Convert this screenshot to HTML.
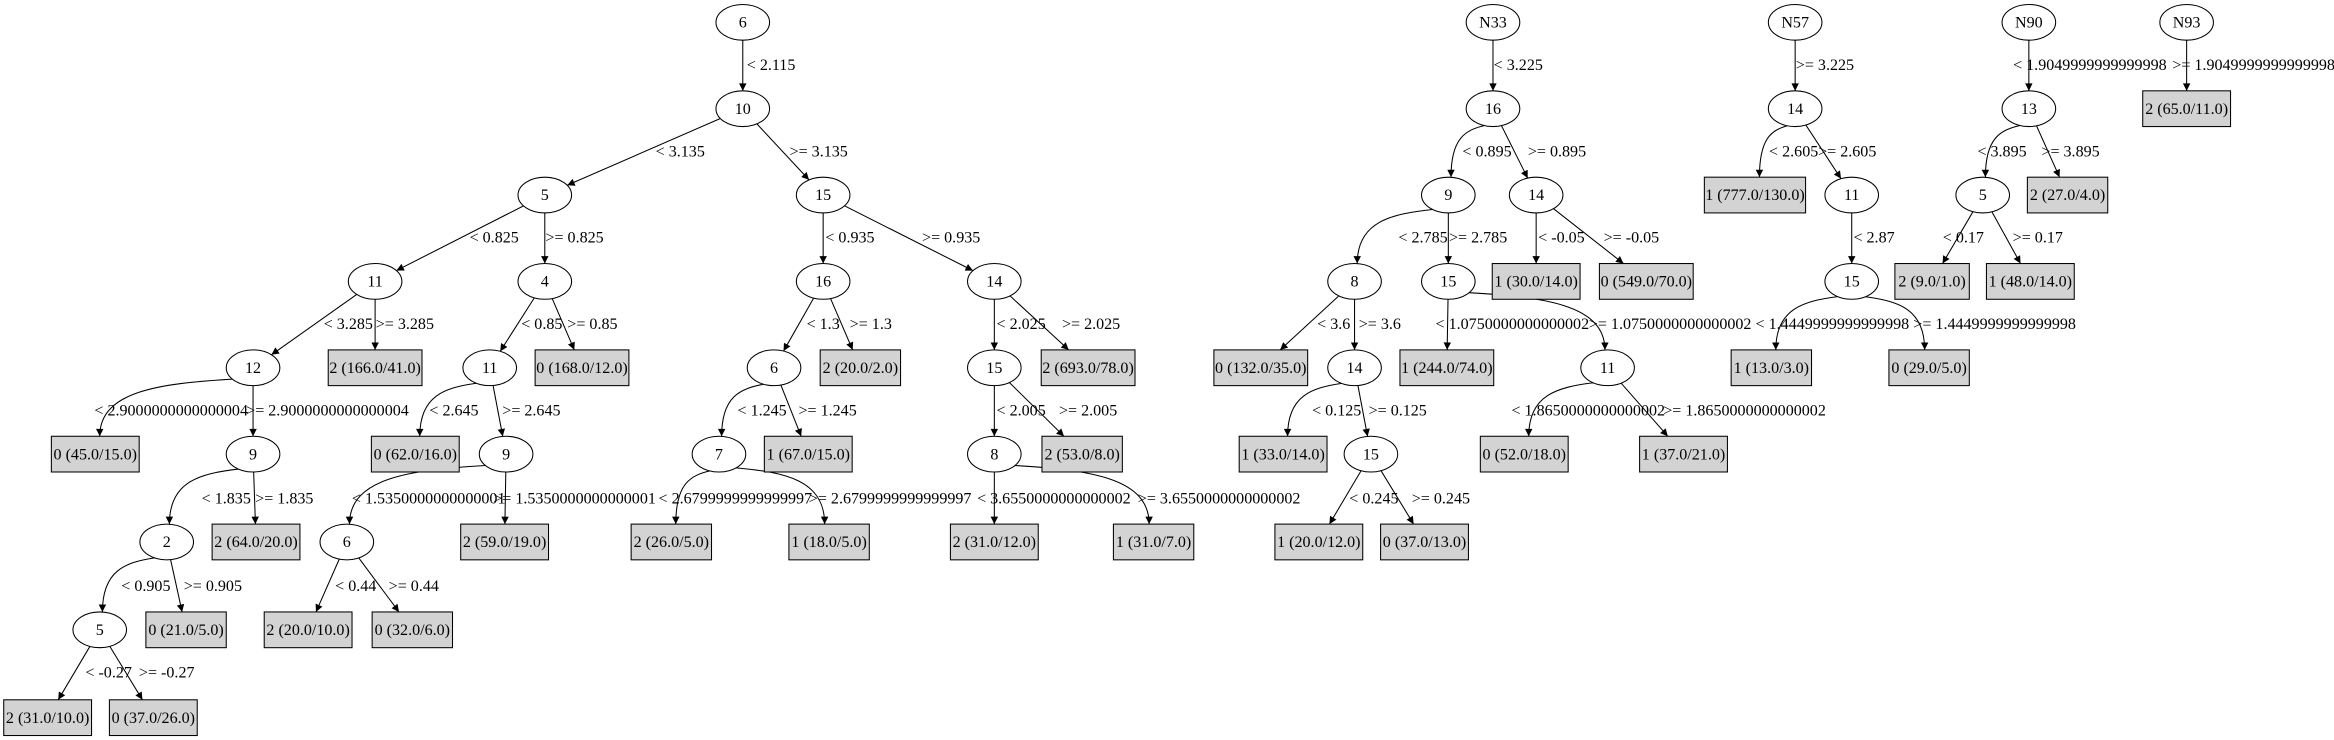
<!DOCTYPE html>
<html><head><meta charset="utf-8"><style>
html,body{margin:0;padding:0;background:#fff;}
svg{display:block;}
text{font-family:"Liberation Serif",serif;font-size:10.8px;fill:#000;}
.n ellipse{fill:#fff;stroke:#000;stroke-width:0.7;}
.n rect{fill:#d3d3d3;stroke:#000;stroke-width:0.7;}
.n text{text-anchor:middle;}
.l text{text-anchor:middle;}
</style></head><body>
<svg id="s" width="2334" height="740" viewBox="0 0 1568 497" preserveAspectRatio="none" xmlns="http://www.w3.org/2000/svg">
<defs><marker id="ar" viewBox="0 0 10 10" refX="10" refY="5" markerWidth="7" markerHeight="5" markerUnits="userSpaceOnUse" orient="auto"><path d="M0,0 L10,5 L0,10 z" fill="#000"/></marker></defs>
<g id="edges"></g>
<g class="n">
<ellipse id="a" cx="499" cy="15" rx="18" ry="12"/><text x="499" y="18.5">6</text>
<ellipse id="b" cx="499" cy="73" rx="18" ry="12"/><text x="499" y="76.5">10</text>
<ellipse id="c" cx="366" cy="131" rx="18" ry="12"/><text x="366" y="134.5">5</text>
<ellipse id="d" cx="553" cy="131" rx="18" ry="12"/><text x="553" y="134.5">15</text>
<ellipse id="e" cx="252" cy="189" rx="18" ry="12"/><text x="252" y="192.5">11</text>
<ellipse id="f" cx="366" cy="189" rx="18" ry="12"/><text x="366" y="192.5">4</text>
<ellipse id="g" cx="170" cy="247" rx="18" ry="12"/><text x="170" y="250.5">12</text>
<rect id="h" x="220.5" y="235" width="63" height="24"/><text x="252" y="250.5">2 (166.0/41.0)</text>
<ellipse id="i" cx="329" cy="247" rx="18" ry="12"/><text x="329" y="250.5">11</text>
<rect id="j" x="359.5" y="235" width="63" height="24"/><text x="391" y="250.5">0 (168.0/12.0)</text>
<rect id="k" x="34.5" y="293" width="59" height="24"/><text x="64" y="308.5">0 (45.0/15.0)</text>
<ellipse id="l" cx="170" cy="305" rx="18" ry="12"/><text x="170" y="308.5">9</text>
<rect id="m" x="249.5" y="293" width="59" height="24"/><text x="279" y="308.5">0 (62.0/16.0)</text>
<ellipse id="n" cx="340" cy="305" rx="18" ry="12"/><text x="340" y="308.5">9</text>
<ellipse id="o" cx="112" cy="364" rx="18" ry="12"/><text x="112" y="367.5">2</text>
<rect id="p" x="142.5" y="352" width="59" height="24"/><text x="172" y="367.5">2 (64.0/20.0)</text>
<ellipse id="q" cx="233" cy="364" rx="18" ry="12"/><text x="233" y="367.5">6</text>
<rect id="r" x="309.5" y="352" width="59" height="24"/><text x="339" y="367.5">2 (59.0/19.0)</text>
<ellipse id="s1" cx="67" cy="423" rx="18" ry="12"/><text x="67" y="426.5">5</text>
<rect id="t" x="98" y="411" width="54" height="24"/><text x="125" y="426.5">0 (21.0/5.0)</text>
<rect id="u" x="177.5" y="411" width="59" height="24"/><text x="207" y="426.5">2 (20.0/10.0)</text>
<rect id="v" x="250" y="411" width="54" height="24"/><text x="277" y="426.5">0 (32.0/6.0)</text>
<rect id="w" x="2.5" y="470" width="59" height="24"/><text x="32" y="485.5">2 (31.0/10.0)</text>
<rect id="x" x="73.5" y="470" width="59" height="24"/><text x="103" y="485.5">0 (37.0/26.0)</text>

<ellipse id="d1" cx="553" cy="189" rx="18" ry="12"/><text x="553" y="192.5">16</text>
<ellipse id="d2" cx="668" cy="189" rx="18" ry="12"/><text x="668" y="192.5">14</text>
<ellipse id="d3" cx="520" cy="247" rx="18" ry="12"/><text x="520" y="250.5">6</text>
<rect id="d4" x="551" y="235" width="54" height="24"/><text x="578" y="250.5">2 (20.0/2.0)</text>
<ellipse id="d5" cx="668" cy="247" rx="18" ry="12"/><text x="668" y="250.5">15</text>
<rect id="d6" x="699.5" y="235" width="63" height="24"/><text x="731" y="250.5">2 (693.0/78.0)</text>
<ellipse id="d7" cx="483" cy="305" rx="18" ry="12"/><text x="483" y="308.5">7</text>
<rect id="d8" x="513.5" y="293" width="59" height="24"/><text x="543" y="308.5">1 (67.0/15.0)</text>
<ellipse id="d9" cx="668" cy="305" rx="18" ry="12"/><text x="668" y="308.5">8</text>
<rect id="d10" x="700" y="293" width="54" height="24"/><text x="727" y="308.5">2 (53.0/8.0)</text>
<rect id="d11" x="424" y="352" width="54" height="24"/><text x="451" y="367.5">2 (26.0/5.0)</text>
<rect id="d12" x="530" y="352" width="54" height="24"/><text x="557" y="367.5">1 (18.0/5.0)</text>
<rect id="d13" x="638.5" y="352" width="59" height="24"/><text x="668" y="367.5">2 (31.0/12.0)</text>
<rect id="d14" x="748" y="352" width="54" height="24"/><text x="775" y="367.5">1 (31.0/7.0)</text>

<ellipse id="n1" cx="1003" cy="15" rx="18" ry="12"/><text x="1003" y="18.5">N33</text>
<ellipse id="n2" cx="1003" cy="73" rx="18" ry="12"/><text x="1003" y="76.5">16</text>
<ellipse id="n3" cx="973" cy="131" rx="18" ry="12"/><text x="973" y="134.5">9</text>
<ellipse id="n4" cx="1032" cy="131" rx="18" ry="12"/><text x="1032" y="134.5">14</text>
<ellipse id="n5" cx="910" cy="189" rx="18" ry="12"/><text x="910" y="192.5">8</text>
<ellipse id="n6" cx="973" cy="189" rx="18" ry="12"/><text x="973" y="192.5">15</text>
<rect id="n7" x="1002.5" y="177" width="59" height="24"/><text x="1032" y="192.5">1 (30.0/14.0)</text>
<rect id="n8" x="1074.5" y="177" width="63" height="24"/><text x="1106" y="192.5">0 (549.0/70.0)</text>
<rect id="n9" x="815.5" y="235" width="63" height="24"/><text x="847" y="250.5">0 (132.0/35.0)</text>
<ellipse id="n10" cx="910" cy="247" rx="18" ry="12"/><text x="910" y="250.5">14</text>
<rect id="n11" x="940.5" y="235" width="63" height="24"/><text x="972" y="250.5">1 (244.0/74.0)</text>
<ellipse id="n12" cx="1080" cy="247" rx="18" ry="12"/><text x="1080" y="250.5">11</text>
<rect id="n13" x="832.5" y="293" width="59" height="24"/><text x="862" y="308.5">1 (33.0/14.0)</text>
<ellipse id="n14" cx="921" cy="305" rx="18" ry="12"/><text x="921" y="308.5">15</text>
<rect id="n15" x="994.5" y="293" width="59" height="24"/><text x="1024" y="308.5">0 (52.0/18.0)</text>
<rect id="n16" x="1101.5" y="293" width="59" height="24"/><text x="1131" y="308.5">1 (37.0/21.0)</text>
<rect id="n17" x="856.5" y="352" width="59" height="24"/><text x="886" y="367.5">1 (20.0/12.0)</text>
<rect id="n18" x="927.5" y="352" width="59" height="24"/><text x="957" y="367.5">0 (37.0/13.0)</text>

<ellipse id="m1" cx="1206" cy="15" rx="18" ry="12"/><text x="1206" y="18.5">N57</text>
<ellipse id="m2" cx="1206" cy="73" rx="18" ry="12"/><text x="1206" y="76.5">14</text>
<rect id="m3" x="1145" y="119" width="68" height="24"/><text x="1179" y="134.5">1 (777.0/130.0)</text>
<ellipse id="m4" cx="1244" cy="131" rx="18" ry="12"/><text x="1244" y="134.5">11</text>
<ellipse id="m5" cx="1244" cy="189" rx="18" ry="12"/><text x="1244" y="192.5">15</text>
<rect id="m6" x="1163" y="235" width="54" height="24"/><text x="1190" y="250.5">1 (13.0/3.0)</text>
<rect id="m7" x="1269" y="235" width="54" height="24"/><text x="1296" y="250.5">0 (29.0/5.0)</text>

<ellipse id="q1" cx="1363" cy="15" rx="18" ry="12"/><text x="1363" y="18.5">N90</text>
<ellipse id="q2" cx="1363" cy="73" rx="18" ry="12"/><text x="1363" y="76.5">13</text>
<ellipse id="q3" cx="1332" cy="131" rx="18" ry="12"/><text x="1332" y="134.5">5</text>
<rect id="q4" x="1362" y="119" width="54" height="24"/><text x="1389" y="134.5">2 (27.0/4.0)</text>
<rect id="q5" x="1273" y="177" width="50" height="24"/><text x="1298" y="192.5">2 (9.0/1.0)</text>
<rect id="q6" x="1334.5" y="177" width="59" height="24"/><text x="1364" y="192.5">1 (48.0/14.0)</text>

<ellipse id="z1" cx="1469" cy="15" rx="18" ry="12"/><text x="1469" y="18.5">N93</text>
<rect id="z2" x="1439.5" y="61" width="59" height="24"/><text x="1469" y="76.5">2 (65.0/11.0)</text>
</g>
<g class="l">
<text x="518" y="47">&lt; 2.115</text>
<text x="457" y="105">&lt; 3.135</text>
<text x="550" y="105">&gt;= 3.135</text>
<text x="332" y="163">&lt; 0.825</text>
<text x="386" y="163">&gt;= 0.825</text>
<text x="234" y="221">&lt; 3.285</text>
<text x="272" y="221">&gt;= 3.285</text>
<text x="364" y="221">&lt; 0.85</text>
<text x="398" y="221">&gt;= 0.85</text>
<text x="115" y="279">&lt; 2.9000000000000004</text>
<text x="220" y="279">&gt;= 2.9000000000000004</text>
<text x="305" y="279">&lt; 2.645</text>
<text x="357" y="279">&gt;= 2.645</text>
<text x="152" y="338">&lt; 1.835</text>
<text x="191" y="338">&gt;= 1.835</text>
<text x="288" y="338">&lt; 1.5350000000000001</text>
<text x="386" y="338">&gt;= 1.5350000000000001</text>
<text x="98" y="397">&lt; 0.905</text>
<text x="143" y="397">&gt;= 0.905</text>
<text x="239" y="397">&lt; 0.44</text>
<text x="278" y="397">&gt;= 0.44</text>
<text x="73" y="455">&lt; -0.27</text>
<text x="112" y="455">&gt;= -0.27</text>
<text x="571" y="163">&lt; 0.935</text>
<text x="639" y="163">&gt;= 0.935</text>
<text x="553" y="221">&lt; 1.3</text>
<text x="585" y="221">&gt;= 1.3</text>
<text x="686" y="221">&lt; 2.025</text>
<text x="733" y="221">&gt;= 2.025</text>
<text x="512" y="279">&lt; 1.245</text>
<text x="556" y="279">&gt;= 1.245</text>
<text x="686" y="279">&lt; 2.005</text>
<text x="731" y="279">&gt;= 2.005</text>
<text x="494" y="338">&lt; 2.6799999999999997</text>
<text x="598" y="338">&gt;= 2.6799999999999997</text>
<text x="708" y="338">&lt; 3.6550000000000002</text>
<text x="819" y="338">&gt;= 3.6550000000000002</text>
<text x="1020" y="47">&lt; 3.225</text>
<text x="999" y="105">&lt; 0.895</text>
<text x="1046" y="105">&gt;= 0.895</text>
<text x="956" y="163">&lt; 2.785</text>
<text x="993" y="163">&gt;= 2.785</text>
<text x="1049" y="163">&lt; -0.05</text>
<text x="1096" y="163">&gt;= -0.05</text>
<text x="896" y="221">&lt; 3.6</text>
<text x="927" y="221">&gt;= 3.6</text>
<text x="1016" y="221">&lt; 1.0750000000000002</text>
<text x="1122" y="221">&gt;= 1.0750000000000002</text>
<text x="898" y="279">&lt; 0.125</text>
<text x="939" y="279">&gt;= 0.125</text>
<text x="1067" y="279">&lt; 1.8650000000000002</text>
<text x="1172" y="279">&gt;= 1.8650000000000002</text>
<text x="923" y="338">&lt; 0.245</text>
<text x="968" y="338">&gt;= 0.245</text>
<text x="1226" y="47">&gt;= 3.225</text>
<text x="1205" y="105">&lt; 2.605</text>
<text x="1241" y="105">&gt;= 2.605</text>
<text x="1259" y="163">&lt; 2.87</text>
<text x="1231" y="221">&lt; 1.4449999999999998</text>
<text x="1340" y="221">&gt;= 1.4449999999999998</text>
<text x="1404" y="47">&lt; 1.9049999999999998</text>
<text x="1514" y="47">&gt;= 1.9049999999999998</text>
<text x="1345" y="105">&lt; 3.895</text>
<text x="1391" y="105">&gt;= 3.895</text>
<text x="1319" y="163">&lt; 0.17</text>
<text x="1369" y="163">&gt;= 0.17</text>
</g>
</svg>
<script>
(function(){
var E=[["a","b"],["b","c"],["b","d"],["c","e"],["c","f"],["e","g"],["e","h"],["f","i"],["f","j"],["g","k",1],["g","l"],["i","m",1],["i","n"],["l","o",1],["l","p"],["n","q",1],["n","r"],["o","s1",1],["o","t"],["q","u"],["q","v"],["s1","w"],["s1","x"],
["d","d1"],["d","d2"],["d1","d3"],["d1","d4"],["d2","d5"],["d2","d6"],["d3","d7",1],["d3","d8"],["d5","d9"],["d5","d10"],["d7","d11",1],["d7","d12",1],["d9","d13"],["d9","d14",1],
["n1","n2"],["n2","n3",1],["n2","n4"],["n3","n5",1],["n3","n6"],["n4","n7"],["n4","n8"],["n5","n9"],["n5","n10"],["n6","n11"],["n6","n12",1],["n10","n13",1],["n10","n14"],["n12","n15",1],["n12","n16"],["n14","n17"],["n14","n18"],
["m1","m2"],["m2","m3",1],["m2","m4"],["m4","m5"],["m5","m6",1],["m5","m7",1],
["q1","q2"],["q2","q3",1],["q2","q4"],["q3","q5"],["q3","q6"],["z1","z2"]];
function info(id){var el=document.getElementById(id);
 if(el.tagName=="ellipse")return{t:0,x:+el.getAttribute("cx"),y:+el.getAttribute("cy"),a:18,b:12};
 var w=+el.getAttribute("width");return{t:1,x:+el.getAttribute("x")+w/2,y:+el.getAttribute("y")+12,a:w/2,b:12};}
function edge(n,dx,dy){var t;if(n.t==0)t=1/Math.sqrt((dx/n.a)*(dx/n.a)+(dy/n.b)*(dy/n.b));
 else t=Math.min(dx?n.a/Math.abs(dx):1e9,dy?n.b/Math.abs(dy):1e9);return[dx*t,dy*t];}
var g=document.getElementById("edges"),ns="http://www.w3.org/2000/svg";
E.forEach(function(e){var p=info(e[0]),c=info(e[1]);var dx=c.x-p.x,dy=c.y-p.y;
 var s=edge(p,dx,dy);
 var el=document.createElementNS(ns,"path");
 var sx=p.x+s[0],sy=p.y+s[1];
 var d;
 if(e[2]){var ex=c.x+(c.t?0:0)+ (dx>0?-4:4)*0, ey=c.y-12;
  ex=c.x+(dx>0?-6:6)*(c.t?0.5:0.3);
  d="M"+sx+","+sy+" C"+(sx+(ex-sx)*0.55)+","+(sy+3)+" "+ex+","+(sy+8)+" "+ex+","+ey;}
 else{var f=edge(c,-dx,-dy);d="M"+sx+","+sy+" L"+(c.x+f[0])+","+(c.y+f[1]);}
 el.setAttribute("d",d);el.setAttribute("fill","none");
 el.setAttribute("stroke","#000");el.setAttribute("stroke-width","0.7");
 el.setAttribute("marker-end","url(#ar)");g.appendChild(el);});
})();
</script>
</body></html>
